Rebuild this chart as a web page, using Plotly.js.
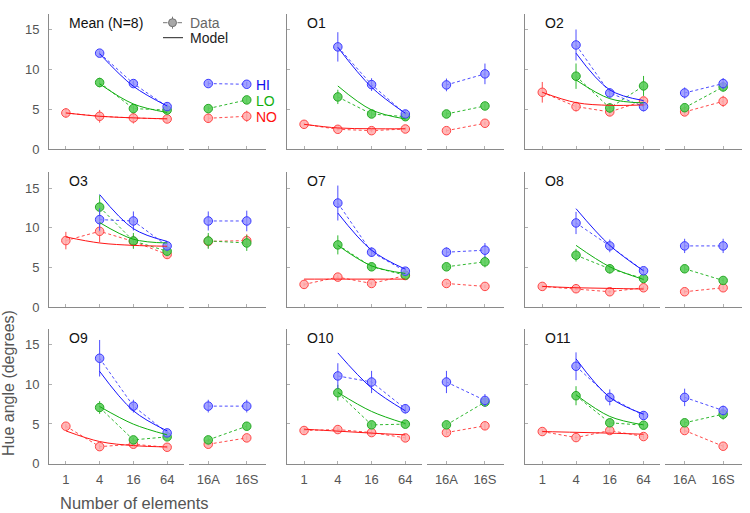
<!DOCTYPE html>
<html><head><meta charset="utf-8">
<script src="https://cdn.plot.ly/plotly-3.0.1.min.js"></script>
<style>html,body{margin:0;padding:0;background:#fff}</style>
</head><body><div id="chart" style="width:750px;height:513px"></div>
<script>
// ---------- data ----------
const panelNames = ['Mean (N=8)','O1','O2','O3','O7','O8','O9','O10','O11'];
const sizesAll = [1,4,16,64];
const sizesHiLo = [4,16,64];
const subConds = ['16A','16S'];
const xTickVals = [1,4,16,64];
const xTickText = ['1','4','16','64'];
const yTickVals = [0,5,10,15];
const yTickText = ['0','5','10','15'];

// HI: data at 4,16,64
const hiData = [[12.07,8.24,5.34],[12.86,8.11,4.41],[13.1,7.06,5.34],[11.04,10.87,7.73],[13.13,6.94,4.55],[10.62,7.73,4.6],[13.28,7.25,3.88],[11.05,10.29,6.92],[12.27,8.35,6.07]];
const hiErr  = [[0.3,0.4,0.4],[1.85,0.8,0.5],[1.95,0.6,0.6],[1.4,1.2,0.6],[2.2,0.6,0.4],[1.4,0.8,0.4],[2.3,0.8,0.4],[1.6,1.4,0.6],[1.75,1.0,0.5]];
const hiSub  = [[8.24,8.15],[8.07,9.46],[7.06,8.24],[10.87,10.87],[6.94,7.19],[7.73,7.73],[7.25,7.25],[10.29,7.97],[8.35,6.7]];
const hiSubErr = [[0.3,0.3],[0.8,1.3],[0.7,0.7],[1.2,1.3],[0.6,0.9],[0.9,0.9],[0.8,0.8],[1.4,0.8],[1.1,0.6]];
const hiModel = [[12.0,7.9,5.42],[12.8,7.78,4.5],[12.07,7.44,6.1],[14.2,9.9,8.3],[11.87,7.19,4.8],[12.42,7.8,4.6],[11.63,6.66,4.13],[13.95,9.53,6.66],[13.2,8.35,6.24]];

// LO: data at 4,16,64
const loData = [[8.37,5.09,4.9],[6.56,4.41,4.07],[9.17,5.17,7.94],[12.62,8.36,7.06],[7.86,5.1,4.05],[6.56,4.85,3.63],[7.08,3.0,3.38],[8.94,4.89,4.98],[8.56,5.15,4.85]];
const loErr  = [[0.6,0.4,0.3],[0.9,0.4,0.4],[1.6,0.6,1.26],[1.5,1.0,0.5],[1.2,0.5,0.3],[0.8,0.6,0.3],[0.8,0.3,0.3],[1.0,0.3,0.3],[1.2,0.3,0.5]];
const loSub  = [[5.09,6.18],[4.41,5.42],[5.2,7.82],[8.36,8.1],[5.1,5.73],[4.85,3.38],[3.0,4.72],[4.89,7.76],[5.15,6.24]];
const loSubErr = [[0.3,0.4],[0.3,0.4],[0.5,0.6],[1.0,1.0],[0.4,0.7],[0.5,0.3],[0.3,0.5],[0.3,0.5],[0.3,0.7]];
const loModel = [[8.2,5.67,4.6],[7.94,4.92,3.78],[8.7,6.34,5.8],[10.67,8.57,8.1],[7.8,5.22,4.26],[7.8,5.1,3.51],[7.2,4.98,3.63],[8.98,6.58,5.06],[8.68,5.95,4.89]];

// NO: data at 1,4,16,64
const noData = [[4.54,4.12,3.91,3.78],[3.11,2.48,2.31,2.52],[7.14,5.34,4.67,6.05],[8.4,9.57,8.3,6.65],[2.88,3.8,3.0,4.0],[2.63,2.34,1.96,2.46],[4.72,2.15,2.45,2.07],[4.18,4.3,3.92,3.25],[4.05,3.29,4.18,3.42]];
const noErr  = [[0.6,0.8,0.7,0.4],[0.2,0.2,0.2,0.2],[1.3,0.6,0.5,0.5],[1.1,1.4,0.8,0.5],[0.2,0.3,0.2,0.2],[0.2,0.2,0.2,0.2],[0.3,0.3,0.2,0.2],[0.3,0.3,0.3,0.3],[0.3,0.3,0.3,0.3]];
const noSub  = [[3.87,4.12],[2.31,3.24],[4.67,6.0],[8.3,8.4],[3.0,2.63],[1.96,2.46],[2.45,3.25],[3.92,4.77],[4.18,2.2]];
const noSubErr = [[0.6,0.7],[0.2,0.2],[0.4,0.7],[0.8,0.8],[0.2,0.2],[0.2,0.2],[0.2,0.3],[0.3,0.5],[0.3,0.3]];
const noModel = [[4.54,4.12,3.92,3.8],[3.11,2.65,2.55,2.55],[7.14,5.84,5.5,5.55],[8.86,8.1,7.8,7.69],[3.55,3.55,3.55,3.55],[2.63,2.46,2.38,2.3],[4.13,2.79,2.28,2.11],[4.35,4.1,3.85,3.63],[4.05,3.95,3.85,3.71]];

const seriesLabels = ['HI','LO','NO'];

// ---------- styles ----------
const W = 750, H = 513;
const FONT = 'Liberation Sans, Arial, Helvetica, sans-serif';
const colLeft = [49, 287.2, 525.4];
const rowBottom = [149, 307.3, 463.7];
const axH = 135, mainW = 135, subOff = 140, subW = 77;
const styles = {
  HI: {edge:'#3a3aff', fill:'rgba(140,140,255,0.8)', dash:'#4d4dff', model:'#1414ff', text:'#1010ee'},
  LO: {edge:'#24a824', fill:'rgba(90,205,90,0.9)', dash:'#2fb82f', model:'#0fae0f', text:'#10b010'},
  NO: {edge:'#ff4545', fill:'rgba(255,170,170,0.85)', dash:'#ff4a4a', model:'#ff1414', text:'#ff1010'}
};
const px = x => x / W;
const py = y => 1 - y / H;

const traces = [];
const layout = {
  width: W, height: H,
  margin: {l:0, r:0, t:0, b:0},
  paper_bgcolor: '#ffffff', plot_bgcolor: 'rgba(0,0,0,0)',
  showlegend: false,
  font: {family: FONT, color: '#555'},
  annotations: [], shapes: []
};

function dataTrace(x, y, err, st, xa, ya) {
  return {
    type: 'scatter', mode: 'lines+markers', x: x, y: y, xaxis: xa, yaxis: ya,
    line: {color: st.dash, width: 1, dash: '3px,2.5px'},
    marker: {symbol: 'circle', size: 8.5, color: st.fill, line: {color: st.edge, width: 1}},
    error_y: {type: 'data', array: err, visible: true, color: st.dash, thickness: 1, width: 0},
    hoverinfo: 'skip'
  };
}
function modelTrace(x, y, st, xa, ya) {
  return {
    type: 'scatter', mode: 'lines', x: x, y: y, xaxis: xa, yaxis: ya,
    line: {color: st.model, width: 1, shape: 'spline', smoothing: 1},
    hoverinfo: 'skip'
  };
}

for (let p = 0; p < 9; p++) {
  const r = Math.floor(p / 3), c = p % 3;
  const iM = 2 * p + 1, iS = 2 * p + 2;
  const xm = 'x' + (iM === 1 ? '' : iM), ym = 'y' + (iM === 1 ? '' : iM);
  const xs = 'x' + iS, ys = 'y' + iS;
  const L = colLeft[c], B = rowBottom[r];
  const yDom = [py(B), py(B - axH)];

  layout['xaxis' + (iM === 1 ? '' : iM)] = {
    domain: [px(L), px(L + mainW)], anchor: ym, type: 'log', range: [-0.301, 2.107],
    showline: true, linecolor: '#8a8a8a', linewidth: 1, showgrid: false, zeroline: false,
    ticks: 'inside', ticklen: 3, tickcolor: '#b0b0b0', tickwidth: 1,
    tickvals: xTickVals, ticktext: xTickText, showticklabels: r === 2,
    tickfont: {size: 13, color: '#555', family: FONT}, ticklabelstandoff: 4, fixedrange: true
  };
  layout['yaxis' + (iM === 1 ? '' : iM)] = {
    domain: yDom, anchor: xm, range: [0, 17],
    showline: true, linecolor: '#8a8a8a', linewidth: 1, showgrid: false, zeroline: false,
    ticks: 'inside', ticklen: 3, tickcolor: '#b0b0b0', tickwidth: 1,
    tickvals: yTickVals, ticktext: yTickText, showticklabels: c === 0,
    tickfont: {size: 13, color: '#555', family: FONT}, ticklabelstandoff: 6, fixedrange: true
  };
  layout['xaxis' + iS] = {
    domain: [px(L + subOff), px(L + subOff + subW)], anchor: ys, type: 'category',
    categoryorder: 'array', categoryarray: subConds, range: [-0.5, 1.5],
    showline: true, linecolor: '#8a8a8a', linewidth: 1, showgrid: false, zeroline: false,
    ticks: 'inside', ticklen: 3, tickcolor: '#b0b0b0', tickwidth: 1,
    tickvals: subConds, ticktext: subConds, showticklabels: r === 2,
    tickfont: {size: 13, color: '#555', family: FONT}, ticklabelstandoff: 4, fixedrange: true
  };
  layout['yaxis' + iS] = {
    domain: yDom, anchor: xs, range: [0, 17], visible: false, fixedrange: true
  };

  // data
  traces.push(dataTrace(sizesAll, noData[p], noErr[p], styles.NO, xm, ym));
  traces.push(dataTrace(subConds, noSub[p], noSubErr[p], styles.NO, xs, ys));
  traces.push(dataTrace(sizesHiLo, loData[p], loErr[p], styles.LO, xm, ym));
  traces.push(dataTrace(subConds, loSub[p], loSubErr[p], styles.LO, xs, ys));
  traces.push(dataTrace(sizesHiLo, hiData[p], hiErr[p], styles.HI, xm, ym));
  traces.push(dataTrace(subConds, hiSub[p], hiSubErr[p], styles.HI, xs, ys));
  // model
  traces.push(modelTrace(sizesAll, noModel[p], styles.NO, xm, ym));
  traces.push(modelTrace(sizesHiLo, loModel[p], styles.LO, xm, ym));
  traces.push(modelTrace(sizesHiLo, hiModel[p], styles.HI, xm, ym));

  // panel title
  layout.annotations.push({
    text: panelNames[p], xref: 'paper', yref: 'paper',
    x: px(L + 17.5), y: py(B - axH + 9), xanchor: 'left', yanchor: 'middle',
    showarrow: false, font: {size: 14, color: '#111', family: FONT}
  });
}

// HI / LO / NO labels (first panel)
const labelY = [85, 100.7, 116.5];
seriesLabels.forEach((s, i) => {
  layout.annotations.push({
    text: s, xref: 'paper', yref: 'paper', x: px(254), y: py(labelY[i]),
    xanchor: 'left', yanchor: 'middle', showarrow: false,
    font: {size: 14, color: styles[s].text, family: FONT}
  });
});

// legend: Data / Model
const lgY1 = 22.7, lgY2 = 37.7;
layout.shapes.push(
  {type: 'line', xref: 'paper', yref: 'paper', x0: px(163), x1: px(167.5), y0: py(lgY1), y1: py(lgY1), line: {color: '#777', width: 1}},
  {type: 'line', xref: 'paper', yref: 'paper', x0: px(177.5), x1: px(182), y0: py(lgY1), y1: py(lgY1), line: {color: '#777', width: 1}},
  {type: 'line', xref: 'paper', yref: 'paper', x0: px(172.5), x1: px(172.5), y0: py(lgY1 - 6), y1: py(lgY1 + 6), line: {color: '#777', width: 1}},
  {type: 'circle', xref: 'paper', yref: 'paper', x0: px(168.5), x1: px(176.5), y0: py(lgY1 - 4), y1: py(lgY1 + 4), line: {color: '#6f6f6f', width: 1}, fillcolor: '#a8a8a8'},
  {type: 'line', xref: 'paper', yref: 'paper', x0: px(163), x1: px(183), y0: py(lgY2), y1: py(lgY2), line: {color: '#222', width: 1}}
);
layout.annotations.push(
  {text: 'Data', xref: 'paper', yref: 'paper', x: px(188), y: py(lgY1), xanchor: 'left', yanchor: 'middle', showarrow: false, font: {size: 14, color: '#666', family: FONT}},
  {text: 'Model', xref: 'paper', yref: 'paper', x: px(188), y: py(lgY2), xanchor: 'left', yanchor: 'middle', showarrow: false, font: {size: 14, color: '#222', family: FONT}},
  {text: 'Hue angle (degrees)', xref: 'paper', yref: 'paper', x: px(8), y: py(383), xanchor: 'center', yanchor: 'middle', textangle: -90, showarrow: false, font: {size: 16, color: '#555', family: FONT}},
  {text: 'Number of elements', xref: 'paper', yref: 'paper', x: px(134), y: py(503), xanchor: 'center', yanchor: 'middle', showarrow: false, font: {size: 16.5, color: '#555', family: FONT}}
);

Plotly.newPlot('chart', traces, layout, {staticPlot: true, displayModeBar: false});
</script>
</body></html>
